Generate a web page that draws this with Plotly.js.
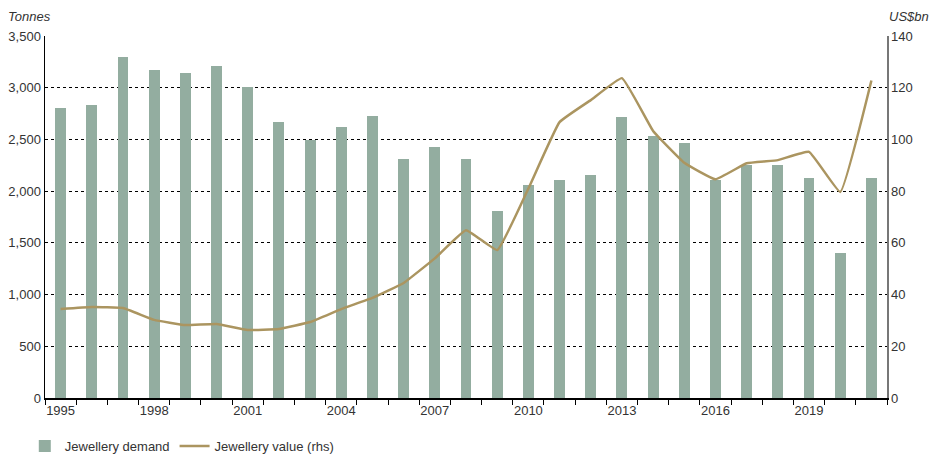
<!DOCTYPE html>
<html>
<head>
<meta charset="utf-8">
<script src="https://cdn.plot.ly/plotly-3.0.1.min.js"></script>
<style>
html,body{margin:0;padding:0;background:#fff;}
#chart{width:948px;height:463px;}
</style>
</head>
<body>
<div id="chart"></div>
<script>
// Data
var years = [1995,1996,1997,1998,1999,2000,2001,2002,2003,2004,2005,2006,2007,2008,2009,2010,2011,2012,2013,2014,2015,2016,2017,2018,2019,2020,2021];
var demandTonnes = [2804,2836,3296,3171,3145,3212,3008,2669,2493,2616,2725,2308,2424,2310,1811,2055,2103,2152,2720,2532,2470,2110,2250,2250,2125,1403,2125];
var valueUSbn = [34.4,35.2,34.8,30.2,28.2,28.6,26.3,26.7,29.4,34.4,38.7,44.5,54.0,64.9,57.2,81.0,106.7,115.2,123.7,103.3,91.0,84.6,90.8,92.0,95.2,79.7,122.8];
var labelYears = [1995,1998,2001,2004,2007,2010,2013,2016,2019];

var cats = years.map(String);
var tickText = years.map(function(y){ return labelYears.indexOf(y) >= 0 ? String(y) : ''; });

var font = 'Liberation Sans, Arial, sans-serif';

var traces = [
  {
    type: 'bar', name: 'Jewellery demand',
    x: cats, y: demandTonnes,
    width: 0.35,
    marker: {color: '#93ada0', line: {width: 0}},
    hoverinfo: 'x+y'
  },
  {
    type: 'scatter', mode: 'lines', name: 'Jewellery value (rhs)',
    x: cats, y: valueUSbn, yaxis: 'y2',
    line: {color: '#ab9560', width: 2.5, shape: 'spline', smoothing: 0.3}
  }
];

var layout = {
  width: 948, height: 463,
  margin: {l: 45, r: 61, t: 36, b: 65, autoexpand: false},
  paper_bgcolor: '#fff', plot_bgcolor: '#fff',
  font: {family: font, size: 13, color: '#333'},
  showlegend: true,
  legend: {orientation: 'h', x: -0.024, xanchor: 'left', y: -0.133, yanchor: 'middle',
           font: {family: font, size: 13, color: '#333'}, traceorder: 'normal'},
  bargap: 0,
  xaxis: {
    type: 'category', tickson: 'boundaries',
    tickmode: 'array', tickvals: cats, ticktext: tickText,
    range: [-0.5, 26.5], tickangle: 0, automargin: false,
    showgrid: false, showline: true, linecolor: '#000', linewidth: 1.5,
    ticks: 'outside', ticklen: 5, tickcolor: '#000', tickwidth: 1,
    tickfont: {family: font, size: 13, color: '#333'},
    fixedrange: true
  },
  yaxis: {
    range: [0, 3500], dtick: 500, tick0: 0, tickformat: ',d',
    showgrid: true, gridcolor: '#000', gridwidth: 1, griddash: 'dot',
    showline: true, linecolor: '#000', linewidth: 1.5,
    ticks: '', automargin: false,
    zeroline: false,
    tickfont: {family: font, size: 13, color: '#333'},
    fixedrange: true
  },
  yaxis2: {
    overlaying: 'y', side: 'right',
    range: [0, 140], dtick: 20, tick0: 0, automargin: false,
    showgrid: false, showline: true, linecolor: '#777', linewidth: 1.5,
    ticks: '', zeroline: false,
    tickfont: {family: font, size: 13, color: '#333'},
    fixedrange: true
  },
  annotations: [
    {text: '<i>Tonnes</i>', xref: 'paper', yref: 'paper', x: 0, y: 1, xanchor: 'left', yanchor: 'bottom',
     xshift: -39, yshift: 10, showarrow: false, font: {family: font, size: 13, color: '#333'}},
    {text: '<i>US$bn</i>', xref: 'paper', yref: 'paper', x: 1, y: 1, xanchor: 'right', yanchor: 'bottom',
     xshift: 44, yshift: 10, showarrow: false, font: {family: font, size: 13, color: '#333'}}
  ]
};

Plotly.newPlot('chart', traces, layout, {displayModeBar: false, staticPlot: true});
</script>
</body>
</html>
